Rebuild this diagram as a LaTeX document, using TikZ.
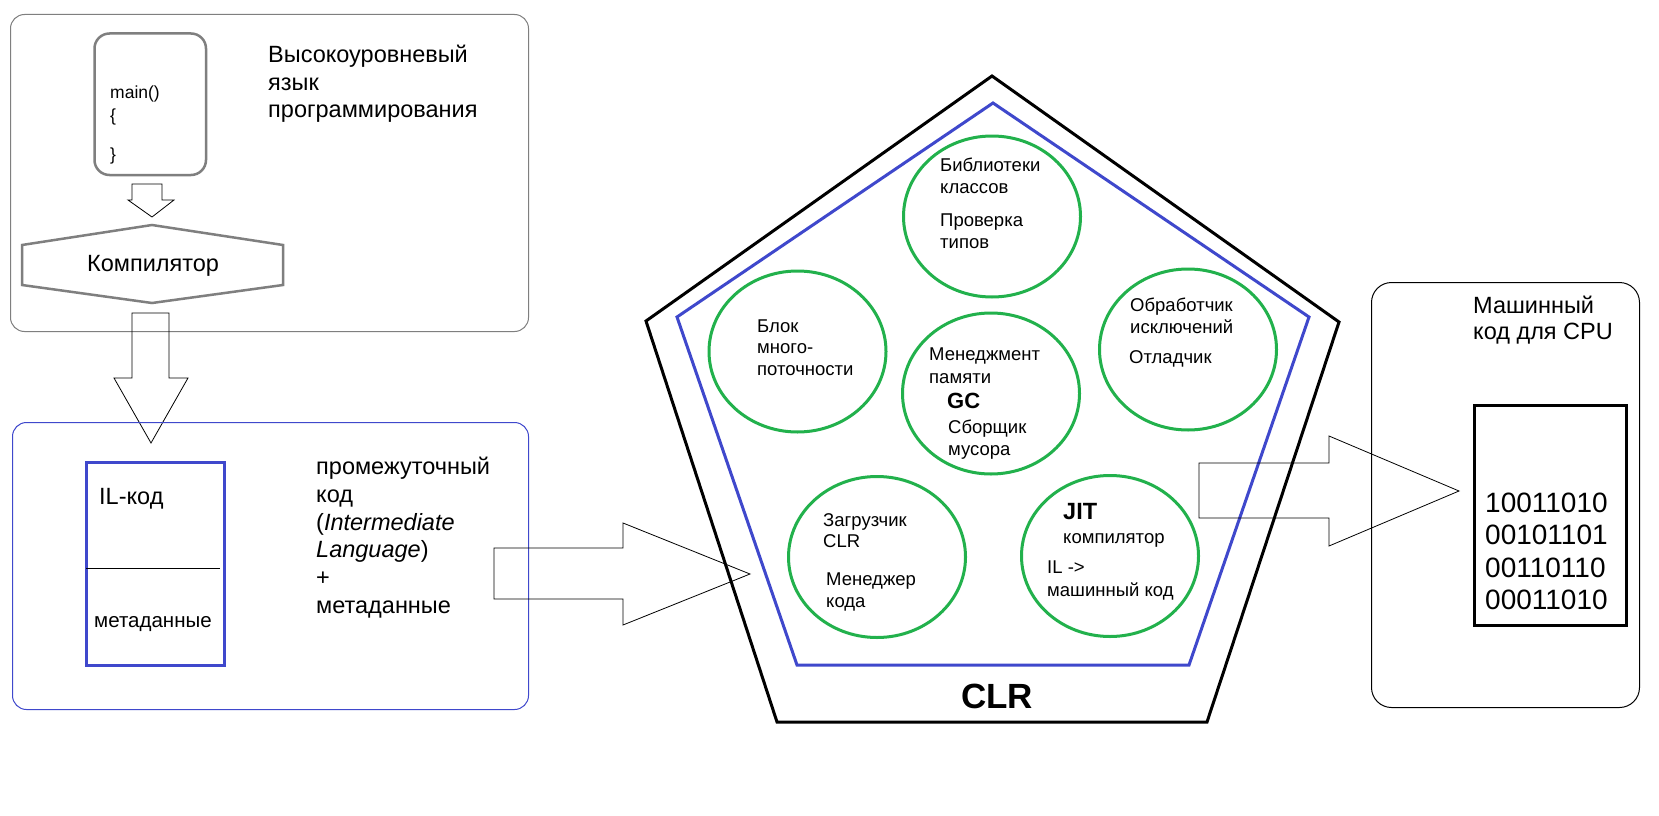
\documentclass[tikz,border=0pt]{standalone}
\usepackage{fontspec}
\setmainfont{Liberation Sans}
\usetikzlibrary{shapes.geometric}
\definecolor{pgray}{HTML}{7F7F7F}
\definecolor{pblue}{HTML}{3F48CC}
\definecolor{pgreen}{HTML}{22B14C}
\begin{document}
\begin{tikzpicture}[x=1pt,y=-1pt,
  lbl/.style={anchor=base west,inner sep=0pt},
  lblc/.style={anchor=base,inner sep=0pt},
  fmain/.style={font=\fontsize{17.5}{17.5}\selectfont},
  fbig/.style={font=\fontsize{23.5}{23.5}\selectfont},
  fmid/.style={font=\fontsize{23.5}{23.5}\selectfont},
  fcirc/.style={font=\fontsize{18.5}{18.5}\selectfont},
  fbin/.style={font=\fontsize{28}{28}\selectfont},
  blockarrow/.style={draw=black,line width=0.8pt,line join=miter},
  thinbox/.style={draw,line width=1pt,rounded corners=14pt,inner sep=0pt,anchor=north west},
  circ/.style={ellipse,draw=pgreen,line width=3pt,inner sep=0pt,minimum width=177pt,minimum height=161pt}]
\useasboundingbox (0,0) rectangle (1659,816);
\fill[white] (0,0) rectangle (1659,816);

% ---------- top-left group ----------
\node[thinbox,draw=pgray,minimum width=518pt,minimum height=317pt] (hlbox) at (10,14) {};
\node[draw=pgray,line width=2.5pt,rounded corners=15pt,inner sep=0pt,anchor=north west,
      minimum width=111.5pt,minimum height=141.5pt] (srcbox) at (93.25,32.25) {};
\node[lbl,fmain] (src1) at (110,99) {main()};
\node[lbl,fmain] (src2) at (110,121) {\{};
\node[lbl,fmain] (src3) at (110,160) {\}};
\node[lbl,fbig] (hl1) at (268,63) {Высокоуровневый};
\node[lbl,fbig] (hl2) at (268,90) {язык};
\node[lbl,fbig] (hl3) at (268,117) {программирования};
\draw[blockarrow] (132,184) -- (162,184) -- (162,200) -- (174,200) -- (152,217) -- (128,200) -- (132,200) -- cycle;
\draw[draw=pgray,line width=2.5pt,line join=miter] (22,245) -- (152,225) -- (283,245) -- (283,285) -- (152,303) -- (22,285) -- cycle;
\node[lblc,fbig] (comp) at (153,271) {Компилятор};
\draw[blockarrow] (132,313) -- (169,313) -- (169,378) -- (188,378) -- (151,443) -- (114,378) -- (132,378) -- cycle;

% ---------- IL group ----------
\node[thinbox,draw=pblue,minimum width=516pt,minimum height=287pt] (ilgroup) at (12,422) {};
\node[draw=pblue,line width=3pt,inner sep=0pt,anchor=north west,minimum width=138pt,minimum height=203pt] (ilbox) at (84.5,460.5) {};
\draw[line width=1pt] (86,568) -- (220,568);
\node[lbl,fmid] (il1) at (99,504) {IL-код};
\node[lblc,font=\fontsize{20.5}{20.5}\selectfont] (il2) at (153,627) {метаданные};
\node[lbl,fmid] (ilt1) at (316,474) {промежуточный};
\node[lbl,fmid] (ilt2) at (316,502) {код};
\node[lbl,fmid] (ilt3) at (316,530) {(\textit{Intermediate}};
\node[lbl,fmid] (ilt4) at (316,557) {\textit{Language})};
\node[lbl,fmid] (ilt5) at (316,585) {+};
\node[lbl,fmid] (ilt6) at (316,613) {метаданные};
\draw[blockarrow] (494,548) -- (623,548) -- (623,523) -- (750,574) -- (623,625) -- (623,599) -- (494,599) -- cycle;

% ---------- CLR ----------
\draw[line width=3pt,line join=miter] (992,76) -- (1339,322) -- (1207,722) -- (777,722) -- (646,321) -- cycle;
\draw[draw=pblue,line width=3pt,line join=miter] (993,103) -- (1309,317) -- (1189,665) -- (797,665) -- (677,317) -- cycle;
\node[circ] (clib) at (992,216.5) {};
\node[circ] (cthr) at (797.5,351.5) {};
\node[circ] (cmem) at (991,393.5) {};
\node[circ] (cexc) at (1188,349.5) {};
\node[circ] (cldr) at (877,557) {};
\node[circ] (cjit) at (1110,556) {};

\node[lbl,fcirc] (t11) at (940,171) {Библиотеки};
\node[lbl,fcirc] (t12) at (940,193) {классов};
\node[lbl,fcirc] (t13) at (940,226) {Проверка};
\node[lbl,fcirc] (t14) at (940,248) {типов};

\node[lbl,fcirc] (t21) at (757,332) {Блок};
\node[lbl,fcirc] (t22) at (757,353) {много-};
\node[lbl,fcirc] (t23) at (757,375) {поточности};

\node[lbl,fcirc] (t31) at (929,360) {Менеджмент};
\node[lbl,fcirc] (t32) at (929,383) {памяти};
\node[lbl,font=\fontsize{22}{22}\selectfont\bfseries] (t33) at (947,408) {GC};
\node[lbl,fcirc] (t34) at (948,433) {Сборщик};
\node[lbl,fcirc] (t35) at (948,455) {мусора};

\node[lbl,fcirc] (t41) at (1130,311) {Обработчик};
\node[lbl,fcirc] (t42) at (1130,333) {исключений};
\node[lbl,fcirc] (t43) at (1129,363) {Отладчик};

\node[lbl,fcirc] (t51) at (823,526) {Загрузчик};
\node[lbl,fcirc] (t52) at (823,547) {CLR};
\node[lbl,fcirc] (t53) at (826,585) {Менеджер};
\node[lbl,fcirc] (t54) at (826,607) {кода};

\node[lbl,font=\fontsize{23.5}{23.5}\selectfont\bfseries] (t61) at (1063,519) {JIT};
\node[lbl,fcirc] (t62) at (1063,543) {компилятор};
\node[lbl,fcirc] (t63) at (1047,573) {IL ->};
\node[lbl,fcirc] (t64) at (1047,596) {машинный код};

\node[lblc,font=\fontsize{35}{35}\selectfont\bfseries] (clr) at (997,708) {CLR};

\draw[blockarrow] (1199,463) -- (1329,463) -- (1329,436) -- (1459,491) -- (1329,546) -- (1329,518) -- (1199,518) -- cycle;

% ---------- CPU ----------
\node[draw=black,line width=1pt,rounded corners=20pt,inner sep=0pt,anchor=north west,minimum width=268pt,minimum height=425pt] (cpubox) at (1371,282) {};
\node[lbl,fbig] (m1) at (1473,313) {Машинный};
\node[lbl,fbig] (m2) at (1473,339) {код для CPU};
\node[draw=black,line width=3pt,inner sep=0pt,anchor=north west,minimum width=152pt,minimum height=220pt] (binbox) at (1472.5,403.5) {};
\node[lbl,fbin] (b1) at (1485,512) {10011010};
\node[lbl,fbin] (b2) at (1485,544) {00101101};
\node[lbl,fbin] (b3) at (1485,577) {00110110};
\node[lbl,fbin] (b4) at (1485,609) {00011010};
\end{tikzpicture}
\end{document}
